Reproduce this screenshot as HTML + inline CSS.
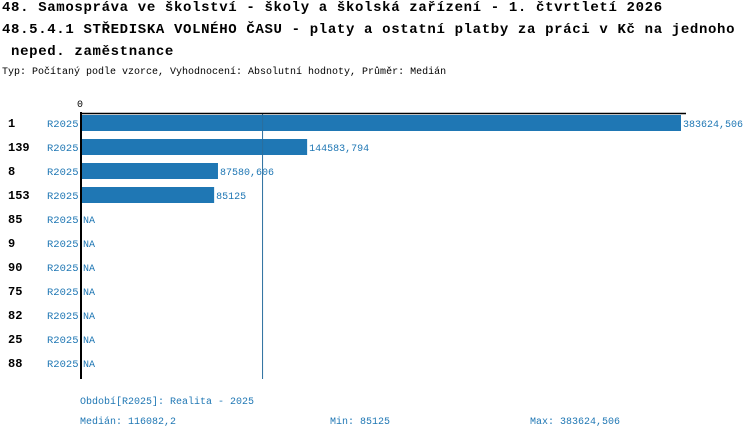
<!DOCTYPE html>
<html><head><meta charset="utf-8"><style>
body{margin:0;background:#fff;width:750px;height:438px;overflow:hidden;font-family:"Liberation Mono","DejaVu Sans Mono",monospace;}
.t{position:absolute;left:2px;font-weight:bold;font-size:14px;letter-spacing:0.65px;color:#000;white-space:pre;}
svg{position:absolute;left:0;top:0}
svg text{font-family:"Liberation Mono","DejaVu Sans Mono",monospace;}
</style></head><body>
<div class="t" style="top:0px">48. Samospráva ve školství - školy a školská zařízení - 1. čtvrtletí 2026</div>
<div class="t" style="top:22px">48.5.4.1 STŘEDISKA VOLNÉHO ČASU - platy a ostatní platby za práci v Kč na jednoho</div>
<div class="t" style="top:44px"> neped. zaměstnance</div>
<div style="position:absolute;left:2px;top:67px;font-size:10px;white-space:pre">Typ: Počítaný podle vzorce, Vyhodnocení: Absolutní hodnoty, Průměr: Medián</div>
<svg id="c" width="750" height="438"></svg>
<script>
const categories=["1","139","8","153","85","9","90","75","82","25","88"];
const periods=["R2025","R2025","R2025","R2025","R2025","R2025","R2025","R2025","R2025","R2025","R2025"];
const values=[383624.506,144583.794,87580.606,85125,null,null,null,null,null,null,null];
const valueLabels=["383624,506","144583,794","87580,606","85125","NA","NA","NA","NA","NA","NA","NA"];
const median=116082.2;
const xMax=383624.506;
const ns="http://www.w3.org/2000/svg";
const svg=document.getElementById('c');
const x0=81,xw=600,top0=115,step=24,bh=16;
function xs(v){return x0+v/xMax*xw;}
function mk(t,a,txt){const e=document.createElementNS(ns,t);for(const k in a)e.setAttribute(k,a[k]);if(txt!=null)e.textContent=txt;svg.appendChild(e);return e;}
const blue="#1f77b4";
categories.forEach((c,i)=>{
 const y=top0+i*step;
 const l=mk('text',{x:8,y:y+12,'font-size':12,'font-weight':'bold',fill:'#000'},c);
 
 
 const p=mk('text',{x:47,y:y+12,'font-size':10.5,fill:blue},periods[i]);
 
 
 let end=x0;
 if(values[i]!=null){
  end=xs(values[i]);
  const r=mk('rect',{x:x0,y:y,width:end-x0,height:bh,fill:blue});
  
  
 }
 const v=mk('text',{x:end+2,y:y+12,'font-size':10,fill:blue},valueLabels[i]);
 
 
});
const ml=mk('line',{x1:xs(median),x2:xs(median),y1:113,y2:379,stroke:'#2a6f9e','stroke-width':1});


const ax=mk('line',{x1:81,x2:81,y1:112,y2:379,stroke:'#000','stroke-width':2});


const tx=mk('line',{x1:80,x2:686,y1:113.5,y2:113.5,stroke:'#000','stroke-width':1.5});


const z=mk('text',{x:77,y:107,'font-size':10,fill:'#000'},'0');


const f1=mk('text',{x:80,y:404,'font-size':10,fill:blue},'Období[R2025]: Realita - 2025');


const f2=mk('text',{x:80,y:424,'font-size':10,fill:blue},'Medián: 116082,2');


const f3=mk('text',{x:330,y:424,'font-size':10,fill:blue},'Min: 85125');


const f4=mk('text',{x:530,y:424,'font-size':10,fill:blue},'Max: 383624,506');


</script>
</body></html>
